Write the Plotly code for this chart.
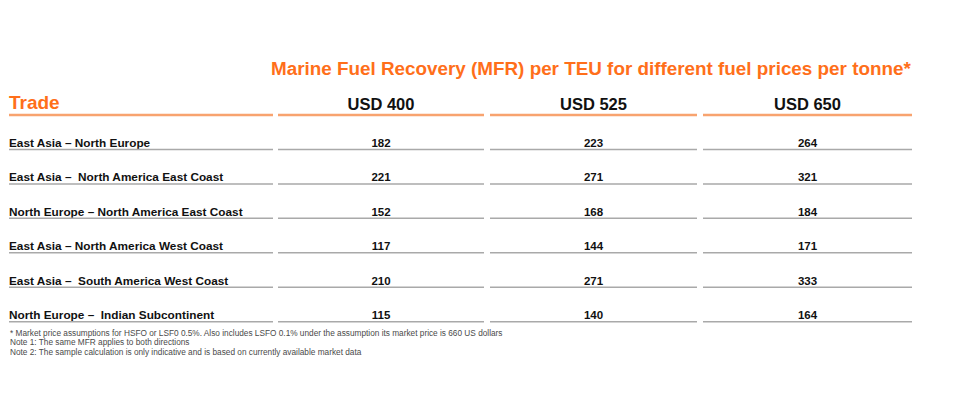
import plotly.graph_objects as go

# table data
trades = [
    "East Asia – North Europe",
    "East Asia –\u00a0 North America East Coast",
    "North Europe – North America East Coast",
    "East Asia – North America West Coast",
    "East Asia –\u00a0 South America West Coast",
    "North Europe –\u00a0 Indian Subcontinent",
]
prices = ["USD 400", "USD 525", "USD 650"]
mfr_400 = [182, 221, 152, 117, 210, 115]
mfr_525 = [223, 271, 168, 144, 271, 140]
mfr_650 = [264, 321, 184, 171, 333, 164]

title = "Marine Fuel Recovery (MFR) per TEU for different fuel prices per tonne*"
notes = [
    "* Market price assumptions for HSFO or LSF0 0.5%. Also includes LSFO 0.1% under the assumption its market price is 660 US dollars",
    "Note 1: The same MFR applies to both directions",
    "Note 2: The sample calculation is only indicative and is based on currently available market data",
]

# layout geometry (pixel-like axes)
W, H = 970, 402
cols = [(9, 273), (278, 484), (490, 697), (703, 912)]
head_line = 115
pitch = 34.45
orange = "#FF6F1A"
orange_line = "#F8A36F"
grey_line = "#A9A9A9"
font = "Liberation Sans, Arial, sans-serif"

row_lines = [head_line + pitch * (i + 1) for i in range(len(trades))]
row_text_y = [y - 5.5 for y in row_lines]

fig = go.Figure()

# trade names
fig.add_trace(go.Scatter(
    x=[cols[0][0]] * len(trades), y=row_text_y, text=trades,
    mode="text", textposition="middle right",
    textfont=dict(family=font, size=11.8, color="#111111"),
    hoverinfo="skip", showlegend=False))

# value columns
for (x0, x1), vals in zip(cols[1:], [mfr_400, mfr_525, mfr_650]):
    fig.add_trace(go.Scatter(
        x=[(x0 + x1) / 2] * len(vals), y=row_text_y, text=[str(v) for v in vals],
        mode="text", textposition="middle center",
        textfont=dict(family=font, size=11.5, color="#111111"),
        hoverinfo="skip", showlegend=False))

# header
fig.add_trace(go.Scatter(
    x=[cols[0][0]], y=[104], text=["Trade"],
    mode="text", textposition="middle right",
    textfont=dict(family=font, size=19, color=orange),
    hoverinfo="skip", showlegend=False))
fig.add_trace(go.Scatter(
    x=[(a + b) / 2 for a, b in cols[1:]], y=[106] * len(prices), text=prices,
    mode="text", textposition="middle center",
    textfont=dict(family=font, size=16.5, color="#111111"),
    hoverinfo="skip", showlegend=False))

# rules
shapes = []
for x0, x1 in cols:
    shapes.append(dict(type="line", x0=x0, x1=x1, y0=head_line, y1=head_line,
                       line=dict(color=orange_line, width=2.5)))
    for y in row_lines:
        shapes.append(dict(type="line", x0=x0, x1=x1, y0=y, y1=y,
                           line=dict(color=grey_line, width=1.5)))

annotations = [
    dict(x=913, y=68, text=title, showarrow=False, xanchor="right", yanchor="middle",
         font=dict(family=font, size=18.85, color=orange, weight="bold"))
]
for i, n in enumerate(notes):
    annotations.append(dict(x=9, y=333 + 9.8 * i, text=n, showarrow=False,
                            xanchor="left", yanchor="middle", xshift=-1,
                            font=dict(family=font, size=8.27, color="#4a4a4a")))

for tr in fig.data:
    tr.textfont.weight = "bold"

fig.update_layout(
    width=W, height=H, margin=dict(l=0, r=0, t=0, b=0),
    paper_bgcolor="white", plot_bgcolor="white",
    xaxis=dict(range=[0, W], visible=False, fixedrange=True),
    yaxis=dict(range=[H, 0], visible=False, fixedrange=True),
    shapes=shapes, annotations=annotations,
)

fig.write_html("out.html", config={"displayModeBar": False},
               post_script="document.body.style.margin='0';")
